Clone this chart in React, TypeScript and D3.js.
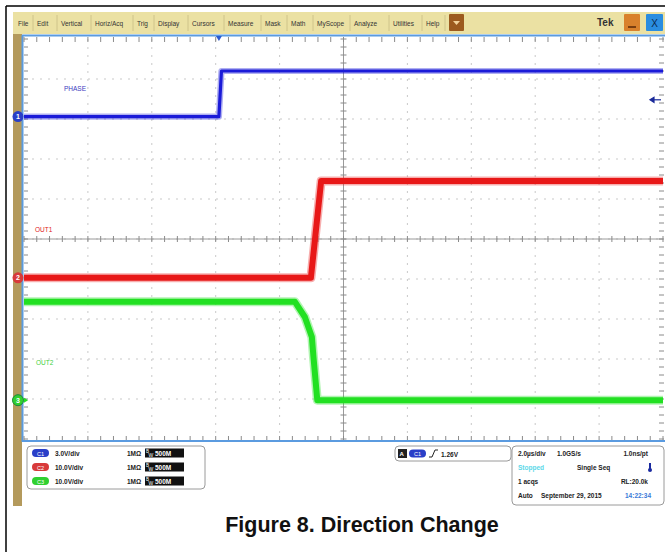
import React from "react";
import * as d3 from "d3";

const W = 665;
const H = 552;

// time in µs (2.0 µs/div, 10 divisions), amplitude in screen divisions from centre
const PHASE_T = [0, 6.1, 6.18, 20];
const PHASE_V = [3.06, 3.06, 4.2, 4.2];
const OUT1_T = [0, 8.98, 9.3, 20];
const OUT1_V = [-0.97, -0.97, 1.45, 1.45];
const OUT2_T = [0, 8.48, 8.79, 9.01, 9.06, 9.18, 20];
const OUT2_V = [-1.57, -1.57, -1.95, -2.45, -2.95, -4.03, -4.03];
const CH_OFFSETS = [3.06, -0.97, -4.03];
const TRIGGER_T = 6.1;
const TRIGGER_LEVEL = 3.48;

const MENU = ["File", "Edit", "Vertical", "Horiz/Acq", "Trig", "Display", "Cursors", "Measure", "Mask", "Math", "MyScope", "Analyze", "Utilities", "Help"];
const MENU_X = [18, 37, 61, 95, 137, 158, 192, 228, 265, 291, 317, 354, 393, 426, 449];

const CH_LABELS = ["C1", "C2", "C3"];
const CH_SCALE = ["3.0V/div", "10.0V/div", "10.0V/div"];
const CH_COLORS = ["#1a1ad8", "#e81818", "#22e022"];
const CH_PILL = ["#2a3fc8", "#d83a3a", "#30d030"];

const TIMEBASE = ["2.0µs/div", "1.0GS/s", "1.0ns/pt"];

const X0 = 24, X1 = 663, Y0 = 39, Y1 = 439;
const FONT = "'Liberation Sans', Arial, sans-serif";

export default function App() {
  const x = d3.scaleLinear().domain([0, 20]).range([X0, X1]);
  const y = d3.scaleLinear().domain([-5, 5]).range([Y1, Y0]);
  const line = d3.line<[number, number]>().x((d) => x(d[0])).y((d) => y(d[1]));
  const zip = (t: number[], v: number[]) => t.map((tt, i) => [tt, v[i]] as [number, number]);

  const divX = d3.range(0, 21, 2);
  const divY = d3.range(-5, 6, 1);
  const minorX = d3.range(0, 20.01, 0.4);
  const minorY = d3.range(-5, 5.01, 0.2);

  const traces = [
    { d: line(zip(PHASE_T, PHASE_V)), c: CH_COLORS[0], w: 3.2 },
    { d: line(zip(OUT1_T, OUT1_V)), c: CH_COLORS[1], w: 6 },
    { d: line(zip(OUT2_T, OUT2_V)), c: CH_COLORS[2], w: 6 },
  ];

  return (
    <svg width={W} height={H} style={{ display: "block", position: "absolute", left: 0, top: 0 }} fontFamily={FONT}>
      <rect x={0} y={0} width={W} height={H} fill="#fff" />
      {/* outer frame */}
      <line x1={6} y1={6} x2={W} y2={6} stroke="#000" strokeWidth={1.5} />
      <line x1={6} y1={6} x2={6} y2={H} stroke="#000" strokeWidth={1.5} />

      {/* toolbar */}
      <rect x={13} y={12} width={W - 13} height={22} fill="#ebe1a3" />
      {MENU.map((m, i) => (
        <g key={m}>
          <text x={MENU_X[i]} y={26} fontSize={6.5} fill="#333">{m}</text>
          <line x1={MENU_X[i + 1] - 4} x2={MENU_X[i + 1] - 4} y1={15} y2={31} stroke="#cfc48a" />
        </g>
      ))}
      <rect x={449} y={14} width={15} height={17} fill="#9c5a1e" rx={1} />
      <path d="M453,21 L460,21 L456.5,25 Z" fill="#f2d29a" />
      <text x={597} y={26} fontSize={10} fontWeight="bold" fill="#333">Tek</text>
      <rect x={624} y={14} width={16} height={17} fill="#d9812c" rx={1} />
      <rect x={628} y={26} width={8} height={2} fill="#7a3e10" />
      <rect x={646} y={14} width={17} height={17} fill="#2a8de0" rx={1} />
      <text x={654.5} y={27} fontSize={10} textAnchor="middle" fill="#0b2a50">X</text>

      {/* left tan strip */}
      <rect x={13} y={34} width={9} height={472} fill="#b49a5c" />
      {/* plot area */}
      <rect x={22} y={34} width={W - 22} height={408} fill="#fff" />
      <line x1={22} x2={W} y1={35.5} y2={35.5} stroke="#5b9be0" strokeWidth={2} />
      <line x1={22.5} x2={22.5} y1={35} y2={442} stroke="#5b9be0" strokeWidth={2} />
      <line x1={22} x2={W} y1={441} y2={441} stroke="#5b9be0" strokeWidth={2} />

      {/* grid */}
      {divX.slice(1, -1).map((t) => (
        <line key={"gx" + t} x1={x(t)} x2={x(t)} y1={Y0} y2={Y1} stroke="#c9c9c9" strokeDasharray="2 6" />
      ))}
      {divY.slice(1, -1).map((v) => (
        <line key={"gy" + v} x1={X0} x2={X1} y1={y(v)} y2={y(v)} stroke="#c9c9c9" strokeDasharray="2 6" />
      ))}
      {/* centre crosshair */}
      <line x1={x(10)} x2={x(10)} y1={Y0} y2={Y1} stroke="#9a9a9a" />
      <line x1={X0} x2={X1} y1={y(0)} y2={y(0)} stroke="#9a9a9a" />
      {minorX.map((t) => (
        <g key={"mx" + t} stroke="#8a8a8a">
          <line x1={x(t)} x2={x(t)} y1={y(0) - 3} y2={y(0) + 3} />
          <line x1={x(t)} x2={x(t)} y1={Y0 - 2} y2={Y0 + 3} />
          <line x1={x(t)} x2={x(t)} y1={Y1 - 3} y2={Y1 + 1} />
        </g>
      ))}
      {minorY.map((v) => (
        <g key={"my" + v} stroke="#8a8a8a">
          <line x1={x(10) - 3} x2={x(10) + 3} y1={y(v)} y2={y(v)} />
          <line x1={X0} x2={X0 + 4} y1={y(v)} y2={y(v)} />
          <line x1={X1 - 4} x2={X1 + 1} y1={y(v)} y2={y(v)} />
        </g>
      ))}

      {/* traces */}
      {traces.map((tr, i) => (
        <g key={"tr" + i}>
          <path d={tr.d || ""} fill="none" stroke={tr.c} strokeOpacity={0.35} strokeWidth={tr.w + 3} strokeLinejoin="round" />
          <path d={tr.d || ""} fill="none" stroke={tr.c} strokeWidth={tr.w} strokeLinejoin="round" />
        </g>
      ))}

      {/* labels */}
      <text x={64} y={91} fontSize={6.5} fill="#3a3ac0">PHASE</text>
      <text x={35} y={232} fontSize={6.5} fill="#e02020">OUT1</text>
      <text x={36} y={365} fontSize={6.5} fill="#40d040">OUT2</text>

      {/* channel markers */}
      {CH_OFFSETS.map((v, i) => (
        <g key={"cm" + i}>
          <circle cx={18} cy={y(v)} r={5.5} fill={CH_PILL[i]} stroke={i === 2 ? "#1a8a3a" : "none"} />
          <text x={18} y={y(v) + 2.5} fontSize={7} textAnchor="middle" fill="#fff" fontWeight="bold">{i + 1}</text>
        </g>
      ))}
      <path d={`M24,${y(CH_OFFSETS[2]) - 2.5} L28,${y(CH_OFFSETS[2])} L24,${y(CH_OFFSETS[2]) + 2.5} Z`} fill="#22e022" />

      {/* trigger markers */}
      <path d={`M${x(TRIGGER_T) - 3},36 L${x(TRIGGER_T) + 3},36 L${x(TRIGGER_T)},41 Z`} fill="#2a5ad0" />
      <g stroke="#1a2a9a" strokeWidth={1.2} fill="#1a2a9a">
        <line x1={652} x2={661} y1={y(TRIGGER_LEVEL)} y2={y(TRIGGER_LEVEL)} />
        <path d={`M650,${y(TRIGGER_LEVEL)} L654,${y(TRIGGER_LEVEL) - 2.5} L654,${y(TRIGGER_LEVEL) + 2.5} Z`} />
      </g>

      {/* bottom panel */}
      <rect x={22} y={442} width={W - 22} height={64} fill="#fff" />
      <rect x={27} y={446} width={178} height={43} rx={4} fill="#fff" stroke="#9a9a9a" />
      {CH_LABELS.map((c, i) => (
        <g key={c} transform={`translate(0,${453 + i * 14})`}>
          <rect x={32} y={-4} width={17} height={8} rx={4} fill={CH_PILL[i]} />
          <text x={40.5} y={2.5} fontSize={5.5} fill="#fff" textAnchor="middle">{c}</text>
          <text x={55} y={2.5} fontSize={6.5} fill="#222" fontWeight="bold">{CH_SCALE[i]}</text>
          <text x={127} y={2.5} fontSize={6.5} fill="#222" fontWeight="bold">1MΩ</text>
          <rect x={145} y={-4.5} width={39} height={9} fill="#111" />
          <text x={146} y={0} fontSize={4.5} fill="#fff">B</text>
          <text x={148.5} y={4} fontSize={5} fill="#fff">W</text>
          <text x={155} y={2.5} fontSize={6.5} fill="#fff" fontWeight="bold">500M</text>
        </g>
      ))}

      <rect x={395} y={446} width={116} height={15} rx={4} fill="#fff" stroke="#9a9a9a" />
      <rect x={398} y={449} width={9} height={9} fill="#222" />
      <text x={399.5} y={456} fontSize={6} fill="#fff" fontWeight="bold">A</text>
      <rect x={409} y={449.5} width={17} height={8} rx={4} fill={CH_PILL[0]} />
      <text x={417.5} y={456} fontSize={5.5} fill="#fff" textAnchor="middle">C1</text>
      <path d="M429,457 L432,457 L435,450 L438,450" fill="none" stroke="#222" />
      <text x={441} y={456.5} fontSize={6.5} fill="#222" fontWeight="bold">1.26V</text>

      <rect x={512} y={446} width={152} height={59} rx={4} fill="#fff" stroke="#9a9a9a" />
      <text x={518} y={456} fontSize={6.5} fill="#222" fontWeight="bold">{TIMEBASE[0]}</text>
      <text x={557} y={456} fontSize={6.5} fill="#222" fontWeight="bold">{TIMEBASE[1]}</text>
      <text x={648} y={456} fontSize={6.5} fill="#222" fontWeight="bold" textAnchor="end">{TIMEBASE[2]}</text>
      <text x={518} y={470} fontSize={6.5} fill="#5cd8e8" fontWeight="bold">Stopped</text>
      <text x={577} y={470} fontSize={6.5} fill="#222" fontWeight="bold">Single Seq</text>
      <rect x={649} y={463} width={2} height={7} fill="#1a2aa0" />
      <circle cx={650} cy={470} r={2} fill="#1a2aa0" />
      <text x={518} y={484} fontSize={6.5} fill="#222" fontWeight="bold">1 acqs</text>
      <text x={648} y={484} fontSize={6.5} fill="#222" fontWeight="bold" textAnchor="end">RL:20.0k</text>
      <text x={518} y={498} fontSize={6.5} fill="#222" fontWeight="bold">Auto</text>
      <text x={541} y={498} fontSize={6.5} fill="#222" fontWeight="bold">September 29, 2015</text>
      <text x={625} y={498} fontSize={6.5} fill="#3a7ad8" fontWeight="bold">14:22:34</text>

      {/* caption */}
      <text x={362} y={532} fontSize={21.5} fontWeight="bold" textAnchor="middle" fill="#111" fontFamily="'Liberation Sans', Arial, sans-serif">
        Figure 8. Direction Change
      </text>
    </svg>
  );
}
